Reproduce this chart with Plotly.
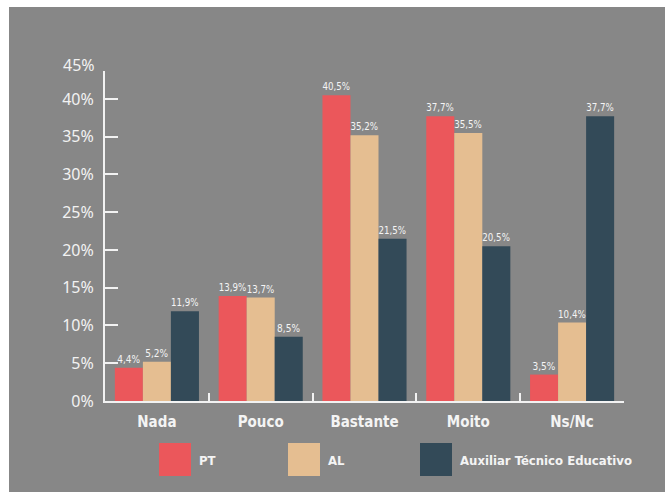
import plotly.graph_objects as go

categories = ["Nada", "Pouco", "Bastante", "Moito", "Ns/Nc"]
series_names = ["PT", "AL", "Auxiliar Técnico Educativo"]
pt_values = [4.4, 13.9, 40.5, 37.7, 3.5]
al_values = [5.2, 13.7, 35.2, 35.5, 10.4]
ate_values = [11.9, 8.5, 21.5, 20.5, 37.7]
colors = ["#EB575B", "#E5BE91", "#334A58"]
y_tickvals = [0, 5, 10, 15, 20, 25, 30, 35, 40]
y_ticktext = ["0%", "5%", "10%", "15%", "20%", "25%", "30%", "35%", "40%"]

W, H = 665, 492
L, R, T, B = 105, 41, 71, 91
PW, PH = W - L - R, H - T - B
BG = "#878787"
COND = "Liberation Sans Narrow, DejaVu Sans Condensed, Arial Narrow, sans-serif"

def px(x):
    return (x - L) / PW

def py(y):
    return (H - B - y) / PH

def fmt(v):
    return f"{v:.1f}".replace(".", ",") + "%"

fig = go.Figure()
for name, vals, col in zip(series_names, [pt_values, al_values, ate_values], colors):
    fig.add_trace(go.Bar(
        x=categories, y=vals, name=name, marker=dict(color=col, line=dict(width=0)),
        text=[fmt(v) for v in vals], textposition="outside", cliponaxis=False,
        textfont=dict(family=COND, size=10, color="#F4F4F4"),
    ))

shapes = [dict(type="rect", xref="paper", yref="paper", x0=px(9), x1=px(666),
               y0=py(493), y1=py(7), fillcolor=BG, line=dict(width=0), layer="below")]
annotations = [dict(text="45%", xref="paper", yref="paper", x=0, y=py(65), xanchor="right",
                    yanchor="middle", xshift=-8, showarrow=False,
                    font=dict(family="Noto Sans, sans-serif", size=16, color="#F2F2F2"))]

legend_items = [(159, series_names[0], colors[0]), (288, series_names[1], colors[1]),
                (420, series_names[2], colors[2])]
for x0, name, col in legend_items:
    shapes.append(dict(type="rect", xref="paper", yref="paper", x0=px(x0), x1=px(x0 + 32),
                       y0=py(476), y1=py(443), fillcolor=col, line=dict(width=0)))
    annotations.append(dict(text="<b>" + name + "</b>", xref="paper", yref="paper",
                            x=px(x0 + 38), y=py(460), xanchor="left", yanchor="middle",
                            showarrow=False,
                            font=dict(family=COND, size=13, color="#F4F4F4")))

fig.update_layout(
    width=W, height=H, margin=dict(l=L, r=R, t=T, b=B),
    paper_bgcolor="white", plot_bgcolor="rgba(0,0,0,0)",
    barmode="group", bargap=0.19, bargroupgap=0, showlegend=False,
    shapes=shapes, annotations=annotations,
    xaxis=dict(showline=True, linecolor="#F2F2F2", linewidth=2, ticks="inside",
               tickson="boundaries", ticklen=8, tickcolor="#F2F2F2", tickwidth=1.5,
               showgrid=False, zeroline=False,
               tickfont=dict(family=COND, size=15, color="#F4F4F4"),
               ticklabelstandoff=6, tickprefix="<b>", ticksuffix="</b>"),
    yaxis=dict(range=[0, 43.7], showline=True, linecolor="#F2F2F2", linewidth=2,
               ticks="inside", ticklen=13, tickcolor="#F2F2F2", tickwidth=1.5,
               tickvals=y_tickvals + [43.7], ticktext=y_ticktext + [""],
               showgrid=False, zeroline=False, ticklabelstandoff=6,
               tickfont=dict(family="Noto Sans, sans-serif", size=16, color="#F2F2F2")),
)

fig.write_html("out.html", config={"displayModeBar": False},
               post_script="document.body.style.margin='0';document.body.style.padding='0';")
